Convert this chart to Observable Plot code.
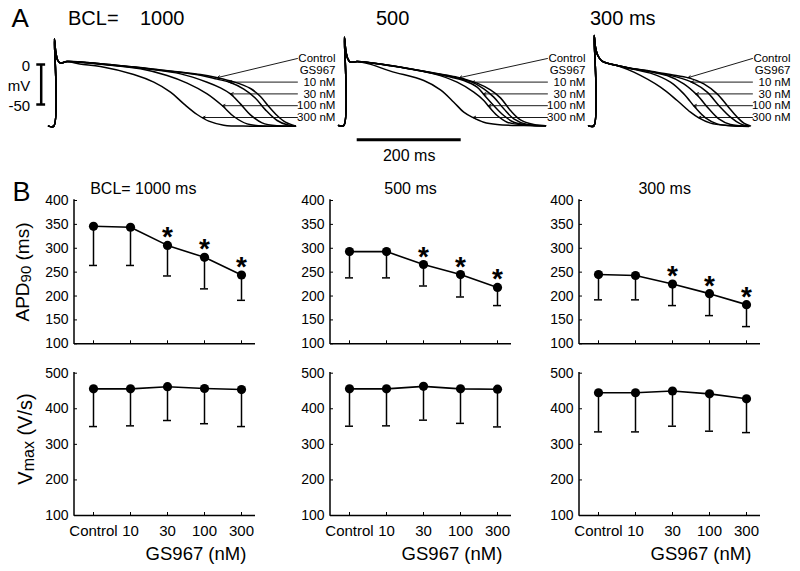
<!DOCTYPE html>
<html><head><meta charset="utf-8">
<script src="https://cdn.jsdelivr.net/npm/d3@7"></script>
<script src="https://cdn.jsdelivr.net/npm/@observablehq/plot@0.6"></script>
<style>
body{margin:0;background:#fff;}
#fig{position:relative;width:800px;height:571px;overflow:hidden;background:#fff;}
#fig svg{position:absolute;left:0;top:0;overflow:visible;}
</style></head><body><div id="fig"></div>
<script>
// ---------- data: panel B ----------
const doses = ["Control", "10", "30", "100", "300"];
const bclTitles = ["BCL= 1000 ms", "500 ms", "300 ms"];
const apdMean = [[346, 344, 306, 281, 244], [293, 293, 266, 245, 218], [245, 243, 225, 205, 182]];
const apdLow  = [[264, 264, 242, 215, 191], [238, 238, 221, 198, 180], [192, 192, 180, 159, 136]];
const apdSig  = [false, false, true, true, true];
const vmaxMean = [[456, 456, 462, 457, 454], [456, 456, 463, 456, 455], [445, 445, 450, 442, 428]];
const vmaxLow  = [[350, 352, 367, 358, 350], [351, 352, 368, 359, 349], [335, 335, 351, 337, 333]];
const apdTicks = [100, 150, 200, 250, 300, 350, 400];
const vmaxTicks = [100, 200, 300, 400, 500];

// ---------- data: panel A (time ms, membrane potential mV) ----------
const bclA = ["1000", "500", "300 ms"];
const traceLabels = ["Control", "GS967", "10 nM", "30 nM", "100 nM", "300 nM"];
const mVBar = [0, -50];
const msBar = 200;

const ap1000Start = [[-10,-77],[0,-77],[1.2,32],[3.8,15.4],[7.7,5],[12.8,1.7],[25.6,3.8]];
const ap1000Control = [[89.7,0.8],[185.9,-5.4],[282,-12.5],[312.8,-16.3],[346.2,-21.7],[378.2,-30],[397.4,-40],[413.4,-52.5],[429.5,-63.8],[445.5,-72.1],[464.7,-76.7]];
const ap1000_10 = [[89.7,0.8],[185.9,-5.6],[282,-13.3],[314.1,-18.3],[339.7,-22.5],[365.4,-30.8],[387.8,-42.1],[407.1,-56.7],[429.5,-70],[448.7,-75.4],[464.7,-77.1]];
const ap1000_30 = [[89.7,0.6],[185.9,-6],[243.6,-11.7],[294.9,-22.1],[320.5,-29.2],[339.7,-36.7],[358.9,-49.2],[378.2,-62.9],[400.6,-72.9],[429.5,-76.7],[464.7,-77.1]];
const ap1000_100 = [[89.7,0.4],[166.6,-5.4],[217.9,-13.8],[256.4,-23.3],[294.9,-36.7],[323.7,-51.3],[346.2,-65],[371.8,-74.2],[410.3,-77.1],[464.7,-77.1]];
const ap1000_300 = [[50,0.5],[89.7,-2.5],[153.8,-12.5],[192.3,-22.1],[224.4,-34.6],[250,-49.2],[275.6,-62.5],[298,-70.8],[326.9,-75.8],[378.2,-77.1],[464.7,-77.1]];

const ap500Start = [[-10,-76.3],[0,-76.3],[1.2,34.2],[3.8,17.5],[7.7,7.1],[12.8,2.9],[25.6,3.8]];
const ap500Control = [[89.7,-1.3],[153.8,-8.3],[217.9,-15.8],[230.7,-17.9],[256.4,-23.3],[282,-31.7],[301.3,-41.7],[320.5,-57.5],[339.7,-69.2],[365.4,-75],[387.8,-76.7]];
const ap500_10 = [[89.7,-1.3],[153.8,-8.5],[217.9,-16.7],[246.8,-22.1],[269.2,-30.4],[288.4,-40.8],[307.7,-55.4],[326.9,-67.9],[352.5,-75],[387.8,-76.7]];
const ap500_30 = [[89.7,-1.4],[153.8,-8.8],[205.1,-15.8],[230.7,-20],[256.4,-28.3],[269.2,-37.5],[288.4,-51.3],[307.7,-63.8],[326.9,-72.1],[358.9,-75.8],[387.8,-76.7]];
const ap500_100 = [[89.7,-1.6],[173.1,-11.7],[217.9,-22.1],[250,-34.6],[269.2,-45],[278.8,-52.5],[294.9,-63.8],[314.1,-72.1],[346.2,-75.4],[387.8,-76.7]];
const ap500_300 = [[50,0.5],[89.7,-8.3],[153.8,-20],[185.9,-31.7],[211.5,-47.1],[230.7,-59.6],[246.8,-65.8],[269.2,-72.1],[294.9,-75],[346.2,-76.3],[387.8,-76.7]];

const ap300Start = [[-10,-76.7],[0,-76.7],[0.7,36.3],[3.2,21.7],[7.7,11.3],[16,4.2],[44.9,-1.3]];
const ap300Control = [[77,-5.4],[109,-8.3],[147.5,-12.5],[182.7,-16.7],[211.6,-24.2],[237.2,-36.7],[256.5,-51.3],[275.7,-65.8],[288.5,-73.3],[301.3,-76.7]];
const ap300_10 = [[77,-5.4],[109,-8.8],[160.3,-15.8],[192.3,-23.3],[218,-34.6],[240.4,-51.3],[262.8,-65.8],[282.1,-74.2],[298.1,-77.1]];
const ap300_30 = [[77,-5.6],[109,-9.2],[141,-13.8],[173.1,-24.2],[198.8,-38.3],[221.2,-55.4],[240.4,-67.9],[262.8,-75],[294.9,-77.1]];
const ap300_100 = [[77,-6],[109,-10.8],[147.5,-22.1],[173.1,-36.7],[195.5,-54.2],[214.8,-66.7],[237.2,-74.2],[275.7,-77.1],[298.1,-77.1]];
const ap300_300 = [[77,-9.6],[128.2,-28.3],[160.3,-45],[185.9,-59.6],[201.9,-66.7],[224.4,-73.3],[256.4,-76.3],[298.1,-77.5]];

// ---------- layout ----------
const FONT = '"Liberation Sans", Arial, Helvetica, sans-serif';
const fig = document.getElementById("fig");
const PX_MS = 0.52, PX_MV = 0.8, ZERO_Y = 64;
const aOrigin = [53.3, 343.3, 593.3];
const ROW0 = 7.5, ROW_STEP = 14.75, LABEL_W = 38, CONTROL_LEVEL = -16.5, NARROW_K = 0.9;
const bLeft = [74, 330, 579];
const PANEL_W = 181;

const aStarts = [ap1000Start, ap500Start, ap300Start];
const aCurves = [
  [ap1000Control, ap1000_10, ap1000_30, ap1000_100, ap1000_300],
  [ap500Control, ap500_10, ap500_30, ap500_100, ap500_300],
  [ap300Control, ap300_10, ap300_30, ap300_100, ap300_300]
];

function crossT(pts, level) {
  for (let i = 1; i < pts.length; i++) {
    const [ta, va] = pts[i - 1], [tb, vb] = pts[i];
    if (ta > 20 && va >= level && vb < level) return ta + (tb - ta) * (va - level) / (va - vb);
  }
  return pts[pts.length - 1][0];
}

function aPanel(p) {
  const t0 = aOrigin[p];
  const rows = [];
  const full = aCurves[p].map(c => aStarts[p].concat(c));
  full.forEach((pts, ci) => pts.forEach(([t, v]) => rows.push({trace: ci, t, v})));
  const ax = d3.max(rows, d => d.t) + 2 / PX_MS;
  const rowV = i => ROW0 - i * ROW_STEP;
  const labels = traceLabels.map((s, i) => ({label: s, x: ax, y: rowV(i)}));
  const arrows = [{x1: ax, y1: rowV(0), x2: crossT(full[0], CONTROL_LEVEL), y2: CONTROL_LEVEL}];
  for (let ci = 1; ci < 5; ci++) arrows.push({x1: ax, y1: rowV(ci + 1), x2: crossT(full[ci], rowV(ci + 1)), y2: rowV(ci + 1)});
  const marks = [
    Plot.line(rows, {x: "t", y: "v", z: "trace", curve: "catmull-rom", stroke: "black", strokeWidth: 1.5}),
    Plot.arrow(arrows, {x1: "x1", y1: "y1", x2: "x2", y2: "y2", stroke: "black", strokeWidth: 0.9, headLength: 5, headAngle: 50}),
    Plot.text(labels, {x: "x", y: "y", text: "label", textAnchor: "end", dx: LABEL_W, fontFamily: FONT, fontSize: 11.5, fill: "black", ariaLabel: "trace-labels"})
  ];
  if (p === 0) {
    const barT = (40.7 - t0) / PX_MS;
    marks.push(
      Plot.ruleX([barT], {y1: mVBar[0], y2: mVBar[1], stroke: "black", strokeWidth: 2.5}),
      Plot.ruleY(mVBar, {x1: barT - 8.5, x2: barT + 8.5, stroke: "black", strokeWidth: 2.5}),
      Plot.text(mVBar, {x: barT, y: d => d, text: d => String(d), textAnchor: "end", dx: -11, dy: 2, fontSize: 15, fontFamily: FONT, fill: "black"}),
      Plot.text(["mV"], {x: barT, y: d3.mean(mVBar), text: d => d, textAnchor: "end", dx: -11, dy: 2, fontSize: 15, fontFamily: FONT, fill: "black"})
    );
  }
  if (p === 1) {
    const x1 = (356.7 - t0) / PX_MS;
    marks.push(
      Plot.ruleY([-94], {x1: x1, x2: x1 + msBar, stroke: "black", strokeWidth: 3}),
      Plot.text([`${msBar} ms`], {x: x1 + msBar / 2, y: -94, text: d => d, dy: 16, fontSize: 16, fontFamily: FONT, fill: "black"})
    );
  }
  return Plot.plot({
    width: 800, height: 170, margin: 0, axis: null,
    style: {background: "transparent", overflow: "visible", fontFamily: FONT},
    x: {domain: [0, 100], range: [t0, t0 + 100 * PX_MS]},
    y: {domain: [0, -50], range: [ZERO_Y, ZERO_Y + 50 * PX_MV]},
    marks
  });
}

function yAxisLine(index, scales, values, dims) {
  return d3.create("svg:line")
    .attr("x1", dims.marginLeft).attr("x2", dims.marginLeft)
    .attr("y1", dims.marginTop).attr("y2", dims.height - dims.marginBottom)
    .attr("stroke", "black").attr("stroke-width", 1.5).attr("stroke-linecap", "square").node();
}

function bPanel(p, row) {
  const isApd = row === 0;
  const mean = isApd ? apdMean[p] : vmaxMean[p];
  const low = isApd ? apdLow[p] : vmaxLow[p];
  const data = doses.map((d, i) => ({dose: d, mean: mean[i], low: low[i], sig: isApd && apdSig[i]}));
  const x0 = bLeft[p];
  const top = isApd ? 200 : 372.7, bottom = isApd ? 343.3 : 515;
  const ticks = isApd ? apdTicks : vmaxTicks;
  return Plot.plot({
    width: 800, height: 571,
    marginLeft: x0, marginRight: 800 - x0 - PANEL_W, marginTop: top, marginBottom: 571 - bottom,
    style: {background: "transparent", overflow: "visible", fontFamily: FONT},
    x: {type: "point", domain: doses, range: [x0 + 18.7, x0 + 167.3], padding: 0},
    y: {domain: [d3.min(ticks), d3.max(ticks)]},
    marks: [
      Plot.axisY({ticks, tickSize: -3, tickPadding: 9, fontSize: 14, label: null, stroke: "black", fill: "black"}),
      Plot.axisX({tickSize: -3, tickPadding: 13, fontSize: 15, label: null, stroke: "black", fill: "black",
        tickFormat: isApd ? () => "" : d => d}),
      Plot.ruleY([d3.min(ticks)], {stroke: "black", strokeWidth: 1.5}),
      yAxisLine,
      Plot.ruleX(data, {x: "dose", y1: "mean", y2: "low", stroke: "black", strokeWidth: 1.5}),
      Plot.ruleY(data, {y: "low", x1: "dose", x2: "dose", insetLeft: -4, insetRight: -4, stroke: "black", strokeWidth: 1.5}),
      Plot.line(data, {x: "dose", y: "mean", stroke: "black", strokeWidth: 1.6}),
      Plot.dot(data, {x: "dose", y: "mean", r: 4.6, fill: "black", stroke: "none"}),
      Plot.text(data.filter(d => d.sig), {x: "dose", y: "mean", text: () => "*", lineAnchor: "bottom", dy: 1,
        fontSize: 28, fontWeight: "bold", fontFamily: FONT, fill: "black"})
    ]
  });
}

for (let p = 0; p < 3; p++) fig.appendChild(aPanel(p));
for (let p = 0; p < 3; p++) {
  try { fig.appendChild(bPanel(p, 0)); } catch (e) { console.error(e); }
  try { fig.appendChild(bPanel(p, 1)); } catch (e) { console.error(e); }
}

// condense the trace labels (narrow face in the original)
fig.querySelectorAll('g[aria-label="trace-labels"] text').forEach(t => {
  const len = t.getComputedTextLength();
  t.setAttribute("textLength", (len * NARROW_K).toFixed(2));
  t.setAttribute("lengthAdjust", "spacingAndGlyphs");
});

// ---------- overlay text ----------
const ov = d3.create("svg").attr("width", 800).attr("height", 571).style("font-family", FONT);
function txt(x, y, s, size, anchor = "start") {
  return ov.append("text").attr("x", x).attr("y", y).attr("font-size", size).attr("text-anchor", anchor).attr("fill", "black").text(s);
}
txt(11.5, 26.5, "A", 26);
txt(68, 25, "BCL=", 20);
txt(140, 25, bclA[0], 20);
txt(376, 25, bclA[1], 20);
txt(590, 25, bclA[2], 20);
txt(12.5, 201, "B", 27);
const titleX = [143.3, 410.5, 664.7];
bclTitles.forEach((s, i) => txt(titleX[i], 193.5, s, 16, "middle"));
bLeft.forEach(x0 => txt(x0 + 122, 560, "GS967 (nM)", 18.5, "middle"));
const apdLabel = ov.append("text").attr("transform", "translate(28.5,272) rotate(-90)").attr("text-anchor", "middle").attr("font-size", 19).attr("fill", "black");
apdLabel.append("tspan").text("APD");
apdLabel.append("tspan").attr("font-size", 15).attr("dy", 2).text("90");
apdLabel.append("tspan").attr("dy", -2).text(" (ms)");
const vLabel = ov.append("text").attr("transform", "translate(31.5,439) rotate(-90)").attr("text-anchor", "middle").attr("font-size", 20).attr("fill", "black");
vLabel.append("tspan").text("V");
vLabel.append("tspan").attr("font-size", 16).attr("dy", 2).text("max");
vLabel.append("tspan").attr("dy", -2).text(" (V/s)");
fig.appendChild(ov.node());
</script></body></html>
